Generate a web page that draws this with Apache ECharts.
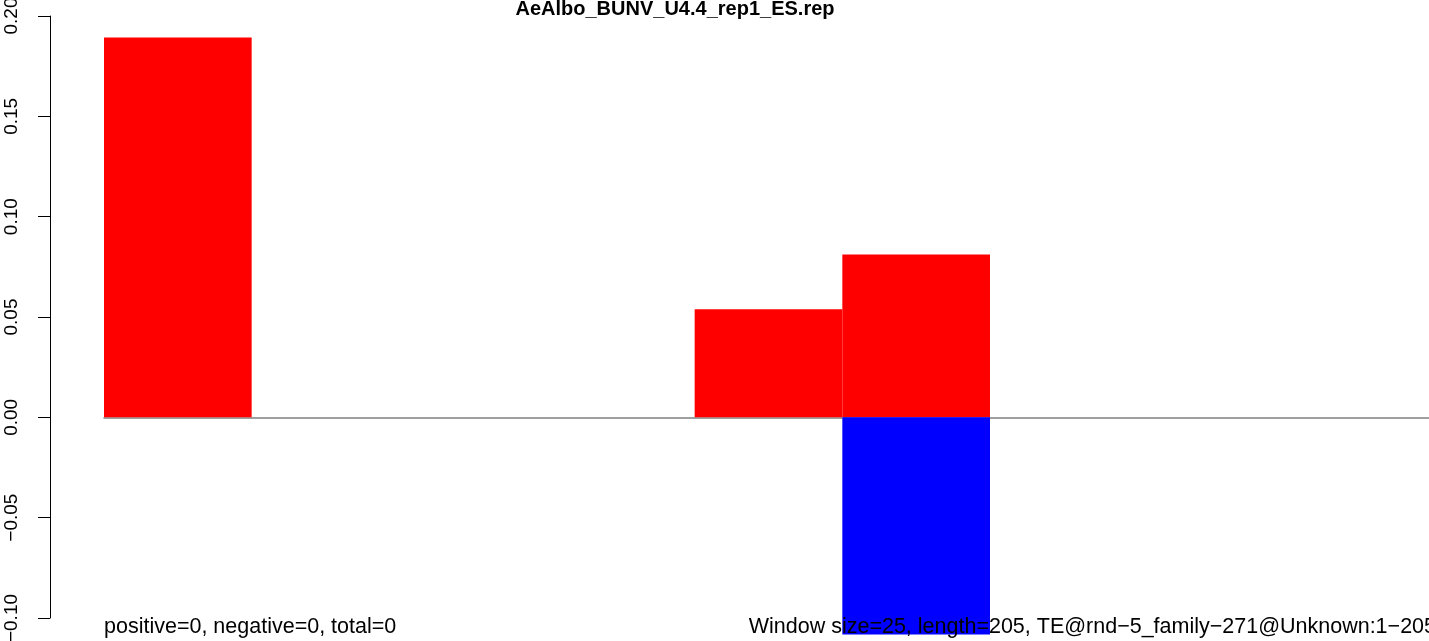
<!DOCTYPE html>
<html>
<head>
<meta charset="utf-8">
<script src="https://cdn.jsdelivr.net/npm/echarts@6/dist/echarts.min.js"></script>
<style>
  html, body { margin: 0; padding: 0; background: #fff; }
  #main { width: 1429px; height: 641px; }
</style>
</head>
<body>
<div id="main"></div>
<script>
// windows of 25 bp along a 205 bp element
const windows = ['1', '2', '3', '4', '5', '6', '7', '8', '9'];
const positiveValues = [0.1893, null, null, null, 0.0538, 0.0812, null, null, null];
const negativeValues = [null, null, null, null, null, -0.1082, null, null, null];
const yTicks = [-0.10, -0.05, 0.00, 0.05, 0.10, 0.15, 0.20];

const titleText = 'AeAlbo_BUNV_U4.4_rep1_ES.rep';
const leftNote = 'positive=0, negative=0, total=0';
const rightNote = 'Window size=25, length=205, TE@rnd\u22125_family\u2212271@Unknown:1\u2212205';

const chart = echarts.init(document.getElementById('main'));

const font = '"Liberation Sans", Arial, Helvetica, sans-serif';

const option = {
  animation: false,
  backgroundColor: '#fff',
  grid: {
    left: 104,
    top: 16,
    width: 1329,
    bottom: 23,
    outerBoundsMode: 'none',
    containLabel: false
  },
  xAxis: {
    type: 'category',
    data: windows,
    boundaryGap: true,
    axisLine: {
      show: true,
      onZero: true,
      lineStyle: { color: '#808080', width: 1.5 }
    },
    axisTick: { show: false },
    axisLabel: { show: false },
    splitLine: { show: false }
  },
  yAxis: {
    type: 'value',
    min: yTicks[0],
    max: yTicks[yTicks.length - 1],
    interval: 0.05,
    offset: 54,
    axisLine: { show: true, lineStyle: { color: '#000', width: 1 } },
    axisTick: { show: true, length: 12, lineStyle: { color: '#000', width: 1 } },
    splitLine: { show: false },
    axisLabel: {
      rotate: 90,
      margin: 29,
      color: '#000',
      fontSize: 19,
      fontFamily: font,
      formatter: v => (v < 0 ? '\u2212' : '') + Math.abs(v).toFixed(2)
    }
  },
  series: [
    {
      name: 'positive',
      type: 'bar',
      data: positiveValues,
      barWidth: '100%',
      barGap: '-100%',
      clip: false,
      itemStyle: { color: '#ff0000' }
    },
    {
      name: 'negative',
      type: 'bar',
      data: negativeValues,
      barWidth: '100%',
      barGap: '-100%',
      clip: false,
      itemStyle: { color: '#0000ff' }
    }
  ],
  graphic: [
    {
      type: 'text',
      z: 100,
      style: {
        text: titleText,
        x: 675,
        y: 9,
        align: 'center',
        verticalAlign: 'middle',
        font: 'bold 20px ' + font,
        fill: '#000'
      }
    },
    {
      type: 'text',
      z: 100,
      style: {
        text: leftNote,
        x: 104,
        y: 627,
        align: 'left',
        verticalAlign: 'middle',
        font: '21.5px ' + font,
        fill: '#000'
      }
    },
    {
      type: 'text',
      z: 100,
      style: {
        text: rightNote,
        x: 1436,
        y: 627,
        align: 'right',
        verticalAlign: 'middle',
        font: '21.5px ' + font,
        fill: '#000'
      }
    }
  ]
};

chart.setOption(option);
</script>
</body>
</html>
